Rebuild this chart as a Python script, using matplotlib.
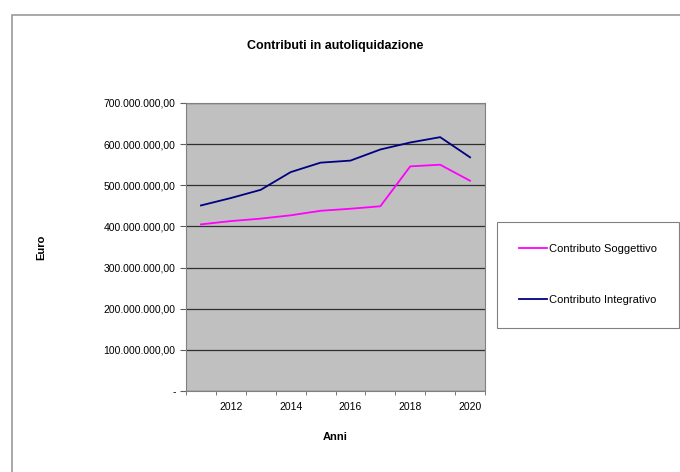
import numpy as np
import matplotlib.pyplot as plt
from matplotlib.patches import Rectangle
from matplotlib.ticker import FuncFormatter, MultipleLocator

anni = [2011, 2012, 2013, 2014, 2015, 2016, 2017, 2018, 2019, 2020]
soggettivo = [405e6, 413e6, 419e6, 427e6, 438e6, 443e6, 449e6, 546e6, 550e6, 511e6]
integrativo = [451e6, 469e6, 489e6, 532e6, 555e6, 560e6, 587e6, 604e6, 617e6, 568e6]
etichette_x = [2012, 2014, 2016, 2018, 2020]

plt.rcParams['font.family'] = ['Liberation Sans', 'DejaVu Sans']

fig = plt.figure(figsize=(6.8, 4.72), dpi=100)

# chart area border
fig.patches.append(Rectangle((12 / 680, -0.05), 1.0, 1 - 15 / 472 + 0.05,
                             transform=fig.transFigure, fill=False,
                             edgecolor='#9a9a9a', linewidth=1.2))

ax = fig.add_axes([186 / 680, 1 - 391 / 472, 299 / 680, 288 / 472])
ax.set_facecolor('#c0c0c0')

ax.plot(anni, soggettivo, color='#ff00ff', linewidth=1.3, label='Contributo Soggettivo')
ax.plot(anni, integrativo, color='#000080', linewidth=1.3, label='Contributo Integrativo')

ax.set_xlim(2010.5, 2020.5)
ax.set_ylim(0, 700e6)
ax.yaxis.set_major_locator(MultipleLocator(100e6))
ax.grid(axis='y', color='#303030', linewidth=0.9)
ax.set_axisbelow(True)


def euro(v, pos):
    if v == 0:
        return '-'
    s = f'{v:,.2f}'
    return s.replace(',', 'X').replace('.', ',').replace('X', '.')


ax.yaxis.set_major_formatter(FuncFormatter(euro))
ax.set_xticks(etichette_x)
ax.set_xticks(np.arange(2010.5, 2021, 1), minor=True)
ax.tick_params(axis='x', which='major', length=0, labelsize=7.5, pad=8)
ax.tick_params(axis='x', which='minor', length=3, direction='out', color='#606060')
ax.tick_params(axis='y', length=4, direction='out', color='#606060', labelsize=7.5)

for s in ax.spines.values():
    s.set_color('#808080')

ax.set_title('Contributi in autoliquidazione', fontsize=9, fontweight='bold', pad=39)
ax.set_xlabel('Anni', fontsize=8, fontweight='bold', labelpad=14)
ax.set_ylabel('Euro', fontsize=8, fontweight='bold', labelpad=41)

leg = fig.legend(loc='upper left', bbox_to_anchor=(497 / 680, 1 - 222 / 472),
                 fontsize=8, frameon=True, fancybox=False, edgecolor='#606060',
                 handlelength=2.5, handletextpad=0.2, labelspacing=3.7,
                 borderpad=2.0, borderaxespad=0)
leg.get_frame().set_linewidth(0.8)

fig.savefig('out.png', dpi=100)
